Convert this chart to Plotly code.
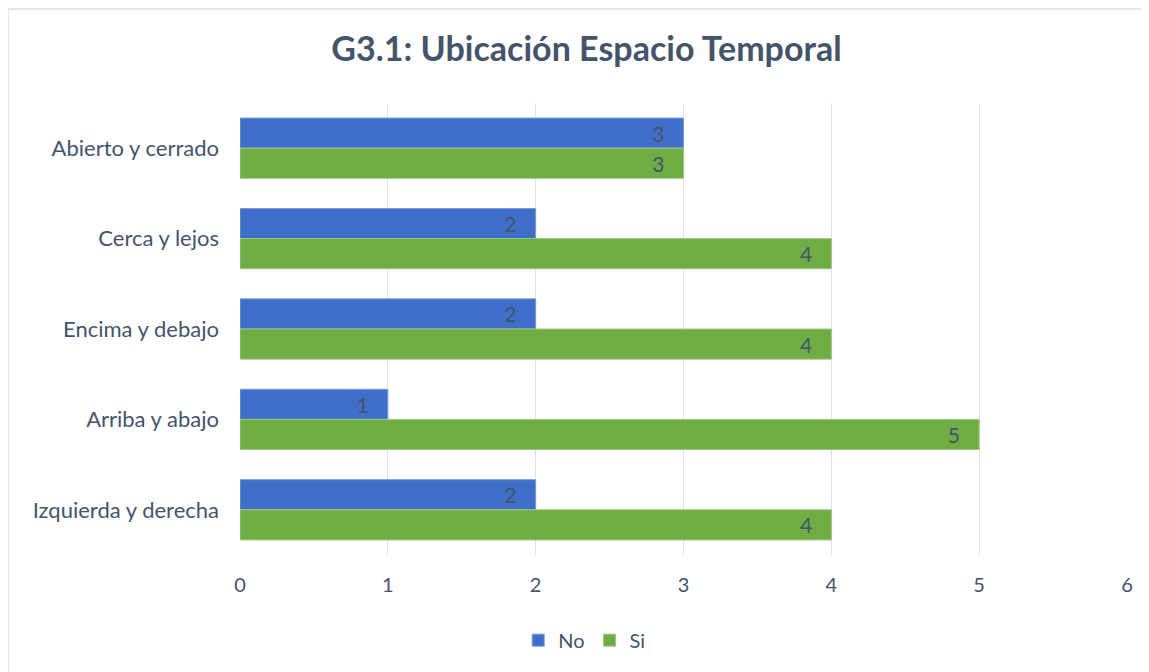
import plotly.graph_objects as go

categories = ["Abierto y cerrado", "Cerca y lejos", "Encima y debajo", "Arriba y abajo", "Izquierda y derecha"]
no_values = [3, 2, 2, 1, 2]
si_values = [3, 4, 4, 5, 4]
x_ticks = [0, 1, 2, 3, 4, 5, 6]

text_color = "#44546A"
font_family = "Lato, 'Open Sans', sans-serif"
pad = "\u00a0\u00a0\u00a0"

fig = go.Figure()
fig.add_trace(go.Bar(
    y=categories, x=no_values, name="No", orientation="h",
    marker=dict(color="#3F6FC9", line=dict(color="#7C9BDB", width=1)),
    texttemplate="%{x}" + pad, textposition="inside", insidetextanchor="end", textangle=0,
    constraintext="none",
    textfont=dict(color=text_color, size=21, family=font_family),
))
fig.add_trace(go.Bar(
    y=categories, x=si_values, name="Si", orientation="h",
    marker=dict(color="#6FAD44", line=dict(color="#9CC97E", width=1)),
    texttemplate="%{x}" + pad, textposition="inside", insidetextanchor="end", textangle=0,
    constraintext="none",
    textfont=dict(color=text_color, size=21, family=font_family),
))

# page body has an 8px margin; figure sized so the plot lands where the reference has it
fig.update_layout(
    width=1141, height=664,
    paper_bgcolor="white", plot_bgcolor="white",
    barmode="group", bargap=1/3, bargroupgap=0,
    margin=dict(l=232, r=22, t=95, b=117),
    title=dict(text="<b>G3.1: Ubicación Espacio Temporal</b>", x=0.507, xref="container",
               y=0.938, yref="container", xanchor="center", yanchor="middle",
               font=dict(size=34, color=text_color, family=font_family)),
    font=dict(family=font_family, color=text_color, size=20),
    legend=dict(orientation="h", x=0.505, xref="container", xanchor="center",
                y=0.048, yref="container", yanchor="middle",
                font=dict(size=20, color=text_color), traceorder="normal",
                itemwidth=30),
    showlegend=True,
    uniformtext=dict(mode=False),
)
fig.update_xaxes(range=[0, 6], tickvals=x_ticks, showgrid=True, gridcolor="#DEE3EA", gridwidth=1,
                 zeroline=False, showline=False, ticks="", tickfont=dict(size=20, color=text_color),
                 ticklabelstandoff=16)
fig.update_yaxes(autorange="reversed", showgrid=False, showline=False, ticks="",
                 tickfont=dict(size=22, color=text_color), ticklabelstandoff=20)

# outer frame (top and left edges visible in the reference)
fig.add_shape(type="line", xref="paper", yref="paper", x0=-232/887, x1=1 + 22/887,
              y0=1 + 94/452, y1=1 + 94/452, line=dict(color="#D9DDE3", width=1.5))
fig.add_shape(type="line", xref="paper", yref="paper", x0=-232/887, x1=-232/887,
              y0=-117/452, y1=1 + 94/452, line=dict(color="#D9DDE3", width=1.5))

fig.write_html("out.html")
